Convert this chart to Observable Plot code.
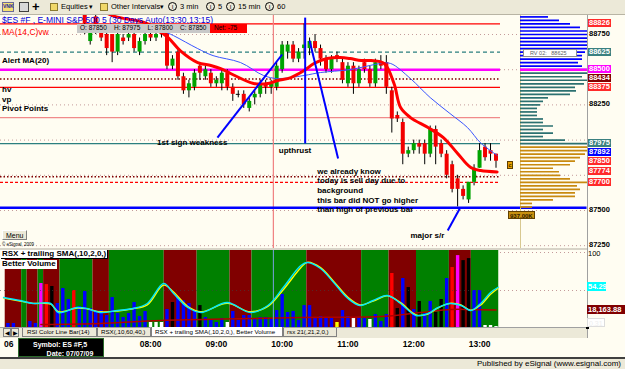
<!DOCTYPE html>
<html>
<head>
<meta charset="utf-8">
<script src="https://cdn.jsdelivr.net/npm/d3@7"></script>
<script src="https://cdn.jsdelivr.net/npm/@observablehq/plot@0.6"></script>
<style>
html,body{margin:0;padding:0;background:#fff;}
#root{position:relative;width:625px;height:369px;overflow:hidden;background:#fffdf2;font-family:"Liberation Sans",Arial,sans-serif;color:#000;}
#root div{position:absolute;box-sizing:border-box;white-space:pre;line-height:1;}
#root svg{position:absolute;left:0;}
</style>
</head>
<body>
<div id="root"></div>
<script>
// ================= DATA =================
const barTime = ["05:50","05:55","06:00","06:05","06:10","06:15","06:20","06:25","06:30","06:35","06:40","06:45","06:50","06:55",
"07:00","07:05","07:10","07:15","07:20","07:25","07:30","07:35","07:40","07:45","07:50","07:55",
"08:00","08:05","08:10","08:15","08:20","08:25","08:30","08:35","08:40","08:45","08:50","08:55",
"09:00","09:05","09:10","09:15","09:20","09:25","09:30","09:35","09:40","09:45","09:50","09:55",
"10:00","10:05","10:10","10:15","10:20","10:25","10:30","10:35","10:40","10:45","10:50","10:55",
"11:00","11:05","11:10","11:15","11:20","11:25","11:30","11:35","11:40","11:45","11:50","11:55",
"12:00","12:05","12:10","12:15","12:20","12:25","12:30","12:35","12:40","12:45","12:50","12:55",
"13:00","13:05","13:10","13:15"];

// candles visible from 07:00 (earlier bars are above the visible price range)
const candleFirst = "07:00";
const candleOpen = [88925,88700,88875,88775,88750,88750,88625,88725,88725,88750,
88625,88700,88750,88725,88775,88775,88525,88625,88450,88350,
88375,88525,88450,88475,88400,88400,88475,88375,88325,88325,
88225,88300,88325,88400,88375,88375,88500,88625,88675,88575,
88650,88650,88700,88650,88575,88500,88600,88550,88400,88525,
88400,88550,88500,88400,88550,88550,88350,88175,88125,87900,
87925,87975,87975,87900,88075,87975,87900,87825,87725,87650,
87575,87700,87800,87950,87925,87900];
const candleHigh = [88950,88800,88900,88800,88775,88750,88775,88750,88775,88775,
88725,88775,88800,88775,88800,88800,88600,88650,88475,88425,
88500,88550,88525,88500,88450,88500,88500,88400,88350,88350,
88300,88350,88425,88425,88425,88550,88700,88700,88700,88650,
88825,88725,88750,88675,88600,88600,88625,88575,88550,88550,
88525,88575,88525,88575,88600,88600,88375,88200,88150,87950,
88000,88000,88000,88100,88100,88000,87925,87850,87750,87675,
87700,87825,87975,87975,87975,87900];
const candleLow = [88750,88675,88750,88700,88600,88550,88600,88675,88700,88625,
88600,88675,88700,88700,88725,88500,88500,88425,88325,88300,
88350,88425,88425,88375,88375,88350,88350,88275,88300,88225,
88200,88250,88300,88325,88325,88350,88475,88575,88550,88550,
88575,88600,88625,88525,88475,88475,88550,88400,88375,88325,
88375,88475,88375,88375,88500,88325,88050,88125,87825,87875,
87900,87900,87825,87875,87825,87875,87725,87625,87525,87575,
87550,87675,87800,87850,87850,87800];
const candleClose = [88825,88775,88775,88725,88650,88625,88750,88700,88750,88650,
88700,88750,88725,88750,88750,88525,88575,88450,88350,88400,
88475,88475,88500,88400,88425,88475,88375,88325,88325,88250,
88275,88325,88400,88375,88400,88525,88675,88675,88575,88625,
88675,88700,88650,88575,88500,88575,88575,88425,88525,88400,
88500,88500,88400,88550,88525,88375,88150,88150,87900,87925,
87975,87950,87900,88075,87950,87900,87750,87650,87650,87600,
87700,87800,87925,87875,87900,87850];

// MA(14,C)vw (red) and MA(20) (blue)
const redMaTime = ["07:19","07:28","07:57","08:16","08:27","08:43","08:55","09:04","09:13","09:34","09:47","09:56","10:08","10:20","10:29","10:41","10:53","11:02","11:12","11:21","11:33","11:42","11:48","11:57","12:13","12:27","12:40","12:52","13:01","13:16"];
const redMaValue = [88906,88877,88828,88728,88636,88551,88530,88508,88473,88402,88402,88423,88444,88494,88544,88579,88586,88579,88565,88565,88544,88402,88231,88160,88089,88018,87905,87805,87784,87774];
const blueMaTime = ["08:04","08:11","08:21","08:43","08:57","09:22","09:43","09:56","10:20","10:35","11:02","11:30","11:39","11:57","12:15","12:33","12:49","13:01","13:16"];
const blueMaValue = [88821,88778,88742,88650,88600,88551,88459,88437,88459,88480,88501,88544,88544,88437,88302,88189,88089,87980,87892];

// horizontal levels
const gridLevels = [88750,88500,88250,88000,87750,87500,87250];
const redLevels = [88826,88375];
const magentaLevels = [88500];
const tealDashLevels = [88625];
const tealLevels = [87975];
const maroonDotLevels = [88434,87740];
const redDashLevels = [87700];
const salmonLevels = [88160];
const srLevels = [87520];
const cursorTime = "09:52";

// annotation arrows
const arrowFromTime = ["09:01","10:21","10:25","12:42"];
const arrowFromPrice = [88018,88870,88707,87514];
const arrowToTime = ["10:00","10:21","10:51","12:31"];
const arrowToPrice = [88608,87976,87869,87358];
const noteText = ["1st sign weakness","upthrust","major s/r"];
const noteTime = ["08:06","09:57","11:57"];
const notePrice = [87983,87926,87322];
const longNote = "we already know\ntoday is sell day due to\nbackground\nthis bar did NOT go higher\nthan high of previous bar";
const longNoteTime = "10:32";
const longNotePrice = 87809;

// right price-axis labels
const priceLabel = [88826,88750,88625,88500,88434,88375,88250,87975,87892,87850,87774,87700,87500,87250];
const priceLabelKind = ["pivot","grid","alert","pivot2","hv","pivot","grid","alert","ma20","last","ma14","pivot","grid","grid"];

// volume by price
const profilePrice = [88875,88850,88825,88800,88775,88750,88725,88700,88675,88650,88625,88600,88575,88550,88525,88500,
88475,88450,88425,88400,88375,88350,88325,88300,88275,88250,88225,88200,88175,88150,88125,88100,88075,88050,88025,88000,87975,
87950,87925,87900,87875,87850,87825,87800,87775,87750,87725,87700,87675,87650,87625,87600,87575,87550,87525];
const profileVolume = [28,39,50,60,67,67,67,67,67,67,65,62,62,58,62,67,
67,62,67,64,55,56,50,28,23,20,17,17,17,23,23,33,23,33,23,45,67,
67,67,65,60,55,50,33,39,40,50,67,57,60,55,55,33,12,12];
const valueAreaHigh = 88475, valueAreaLow = 87975;

// Better Volume (per bar, from 05:50)
const volume = [4200,4200,0,0,6200,4200,45700,44600,42600,24900,
40500,29100,38400,21800,37400,19700,17600,17600,12500,31100,
14500,10400,14500,26000,11400,16600,5200,5200,5200,18700,
26000,31100,28000,24900,16600,22800,10400,8300,5200,9300,
5200,16600,7300,12500,12500,8300,10400,10400,8300,17600,
34300,15600,16600,7300,22800,22800,9300,11400,10400,9300,
5200,17600,11400,9300,10400,9300,8300,13500,6200,13500,
56100,19700,50900,41500,18700,27000,14500,27000,15600,29100,
50900,62300,74700,69500,71600,38400,38400,2100,2100,1000];
const volumeType = ["N","N","N","N","N","N","CC","CU","CH","N",
"N","N","CU","N","N","N","N","N","N","N",
"N","N","N","N","N","N","CD","CD","CD","N",
"CH","N","N","N","N","CH","N","N","N","N",
"CD","N","N","N","N","N","N","N","N","N",
"N","N","N","N","N","N","N","N","N","N",
"LV","N","N","CD","N","N","CD","N","N","N",
"CU","CH","N","CH","N","CH","N","N","CH","CH",
"N","CU","CC","CH","CH","N","N","CD","CD","CD"];
const volMaTime = ["06:20","07:14","08:09","09:31","10:17","11:30","12:06","12:34","12:52","13:15"];
const volMaValue = [3100,4150,7300,9300,10400,11400,15600,18700,18700,18164];

// RSX background state bands
const bandStart = ["05:50","06:05","06:10","06:20","06:25","06:40","07:10","07:25","08:15","08:45","09:15","09:35","10:25","11:15","11:40","12:05","12:35","12:55"];
const bandEnd   = ["06:00","06:05","06:15","06:20","06:35","07:05","07:20","08:10","08:40","09:10","09:30","10:20","11:10","11:35","12:00","12:30","12:50","13:15"];
const bandState = ["dn","up","dn","up","dn","up","dn","up","dn","up","dn","up","dn","up","dn","up","dn","up"];

// RSX and its trailing SMA
const rsxTime = ["05:46","06:01","06:13","06:29","06:36","06:53","07:02","07:14","07:30","07:44","07:57","08:12","08:21","08:34","08:46","09:10","09:31","09:47","10:01","10:17","10:23","10:35","10:47","11:00","11:11","11:23","11:36","11:48","12:02","12:13","12:22","12:33","12:43","12:52","13:01","13:10","13:17"];
const rsxValue = [40.8,36.8,32.9,32.9,21,27.6,26.3,21,23.7,26.3,32.9,59.2,46,27.6,21,34.2,21,30.3,53.9,82.9,86.8,78.9,60.5,39.5,30.3,36.8,43.4,32.9,17.1,19.7,27.6,32.9,30.3,23.7,32.9,47.4,54.3];
const rsxSma = [40,36,33,32,22,27,26,22,23,26,31,57,48,29,22,33,22,29,51,80,87,80,62,41,31,36,43,34,18,19,27,33,31,24,31,45,53];

const timeTicks = ["08:00","09:00","10:00","11:00","12:00","13:00"];

// ================= LAYOUT CONSTANTS =================
const T = s => { const [h, m] = s.split(":").map(Number); return h * 60 + m; };
const xDomain = [343.2, 799.1];          // visible time window (min), mapped to px 0..500
const rightEdge = T("14:38");            // right edge of the drawing area
const priceDomain = [87230, 88885];
const font = "Liberation Sans, Arial, sans-serif";
const root = document.getElementById("root");
function div(css, text = "") { const d = document.createElement("div"); d.style.cssText = css; d.textContent = text; root.appendChild(d); return d; }

// ================= PRICE PANEL =================
const i0 = barTime.indexOf(candleFirst);
const candles = candleOpen.map((o, i) => ({t: T(barTime[i0 + i]), o, h: candleHigh[i], l: candleLow[i], c: candleClose[i]}));
const redMa = redMaTime.map((t, i) => ({t: T(t), v: redMaValue[i]}));
const blueMa = blueMaTime.map((t, i) => ({t: T(t), v: blueMaValue[i]}));
const arrows = arrowFromTime.map((t, i) => ({x1: T(t), y1: arrowFromPrice[i], x2: T(arrowToTime[i]), y2: arrowToPrice[i]}));
const notes = noteText.map((s, i) => ({s, t: T(noteTime[i]), p: notePrice[i]}));

const pricePlot = Plot.plot({
  width: 625, height: 233, marginTop: 0, marginRight: 125, marginBottom: 0, marginLeft: 0,
  x: {type: "linear", domain: xDomain, axis: null},
  y: {type: "linear", domain: priceDomain, axis: null},
  style: {background: "transparent", fontFamily: font},
  marks: [
    Plot.ruleY(gridLevels, {x1: xDomain[0], x2: rightEdge, stroke: "#c49a9a", strokeDasharray: "1,3"}),
    Plot.ruleY(salmonLevels, {stroke: "#f08a8a", strokeWidth: 1.2}),
    Plot.ruleY(redLevels, {stroke: "#ff0000", strokeWidth: 1.3}),
    Plot.ruleY(tealDashLevels, {stroke: "#2b7f7f", strokeWidth: 1.3, strokeDasharray: "4,3"}),
    Plot.ruleY(tealLevels, {stroke: "#2b7f7f", strokeWidth: 1.4}),
    Plot.ruleY(maroonDotLevels, {stroke: "#800000", strokeWidth: 1.4, strokeDasharray: "1.5,2"}),
    Plot.ruleY(redDashLevels, {stroke: "#ff0000", strokeWidth: 1.3, strokeDasharray: "3,2"}),
    Plot.ruleY(magentaLevels, {stroke: "#ff00ff", strokeWidth: 2.5}),
    Plot.ruleX([T(cursorTime)], {stroke: "#f08080", strokeWidth: 1.2}),
    Plot.ruleX(candles, {x: "t", y1: "l", y2: "h", stroke: "#000", strokeWidth: 1, clip: true}),
    Plot.ruleX(candles, {x: "t", y1: "o", y2: "c", stroke: d => d.c >= d.o ? "#00a400" : "#f20000", strokeWidth: 4, clip: true}),
    Plot.ruleY(candles.filter(d => d.c === d.o), {y: "c", x1: d => d.t - 1.8, x2: d => d.t + 1.8, stroke: "#000", clip: true}),
    Plot.line(blueMa, {x: "t", y: "v", stroke: "#3a55ff", strokeWidth: 1, curve: "catmull-rom", clip: true}),
    Plot.line(redMa, {x: "t", y: "v", stroke: "#ff0000", strokeWidth: 3, curve: "catmull-rom", clip: true}),
    Plot.ruleY(srLevels, {x1: xDomain[0], x2: rightEdge, stroke: "#0000ff", strokeWidth: 2.5}),
    Plot.link(arrows, {x1: "x1", y1: "y1", x2: "x2", y2: "y2", stroke: "#0000ff", strokeWidth: 2}),
    Plot.text(notes, {x: "t", y: "p", text: "s", textAnchor: "start", lineAnchor: "middle", fontSize: 8, fontWeight: "bold", fill: "#000"}),
    Plot.text([longNote], {x: T(longNoteTime), y: longNotePrice, text: d => d, textAnchor: "start", lineAnchor: "top", lineHeight: 1.2, fontSize: 8, fontWeight: "bold", fill: "#000"})
  ]
});

// volume-by-price profile
const profile = profilePrice.map((p, i) => ({p, v: profileVolume[i],
  zone: p > valueAreaHigh ? "#0000ff" : (p >= valueAreaLow ? "#2b7070" : "#c88a10")}));
const profilePlot = Plot.plot({
  width: 625, height: 233, marginTop: 0, marginRight: 38, marginBottom: 0, marginLeft: 520,
  x: {type: "linear", domain: [0, d3.max(profileVolume)], axis: null},
  y: {type: "linear", domain: priceDomain, axis: null},
  style: {background: "transparent"},
  marks: [
    Plot.ruleX([0], {stroke: "#d8c890"}),
    Plot.ruleY(profile, {y: "p", x1: 0, x2: "v", stroke: "zone", strokeWidth: 1.7}),
    Plot.ruleY(magentaLevels, {stroke: "#ff00ff", strokeWidth: 2.5})
  ]
});

// ================= INDICATOR PANEL =================
const volColor = {N: "#0000ff", LV: "#ffff00", CU: "#ff0000", CD: "#ffffff", CH: "#000000", CC: "#ff00ff"};
const vols = volume.map((v, i) => ({t: T(barTime[i]), v, c: volColor[volumeType[i]]}));
const bands = bandStart.map((s, i) => ({a: T(s) - 2.5, b: T(bandEnd[i]) + 2.5, f: bandState[i] === "dn" ? "#800000" : "#008000"}));
const volMa = volMaTime.map((t, i) => ({t: T(t), v: volMaValue[i]}));
const tickMins = timeTicks.map(T);

const volPlot = Plot.plot({
  width: 625, height: 102, marginTop: 0, marginRight: 125, marginBottom: 25, marginLeft: 0,
  x: {type: "linear", domain: xDomain, axis: null},
  y: {type: "linear", domain: [0, 80000], axis: null},
  style: {background: "transparent", fontFamily: font},
  marks: [
    Plot.rect(bands, {x1: "a", x2: "b", y1: 0, y2: 80000, fill: "f"}),
    Plot.ruleX(vols, {x: "t", y1: 0, y2: "v", stroke: "c", strokeWidth: 3.4}),
    Plot.line(volMa, {x: "t", y: "v", stroke: "#b00000", strokeWidth: 1.5, curve: "catmull-rom"}),
    Plot.ruleX([T(cursorTime)], {stroke: "#7aa0e0", strokeWidth: 1}),
    Plot.axisX({ticks: tickMins, tickFormat: m => timeTicks[tickMins.indexOf(m)], tickSize: 0, tickPadding: 13, fontSize: 8.5, fontWeight: "bold", fill: "#000"})
  ]
});

const rsx = rsxTime.map((t, i) => ({t: T(t), v: rsxValue[i], s: rsxSma[i]}));
const rsxPlot = Plot.plot({
  width: 625, height: 102, marginTop: 0, marginRight: 125, marginBottom: 25, marginLeft: 0,
  x: {type: "linear", domain: xDomain, axis: null},
  y: {type: "linear", domain: [0, 100], range: [78, 2], axis: null},
  style: {background: "transparent"},
  marks: [
    Plot.ruleY([100, 50], {x1: xDomain[1], x2: rightEdge, stroke: "#c49a9a", strokeDasharray: "1,3"}),
    Plot.ruleY([50], {stroke: "#404040", strokeDasharray: "1,3", strokeOpacity: 0.6}),
    Plot.line(rsx, {x: "t", y: "s", stroke: "#ffff00", strokeWidth: 1.4, curve: "catmull-rom"}),
    Plot.line(rsx, {x: "t", y: "v", stroke: "#00e8ff", strokeWidth: 1.4, curve: "catmull-rom"})
  ]
});

// ================= ASSEMBLY =================
// toolbar
div("left:0;top:0;width:625px;height:15px;background:#ece9d8;border-bottom:1px solid #b8b4a4;");
div("left:2px;top:2px;width:12px;height:10px;background:#f4e070;border:1px solid #6a6a9a;font-size:5px;color:#2020a0;font-weight:bold;padding-top:1px;", "VNK");
div("left:19px;top:2px;width:10px;height:10px;background:#d8d8d8;border:1px solid #404040;");
div("left:32px;top:0px;font-size:13px;font-weight:bold;", "+");
div("left:50px;top:3px;width:8px;height:8px;background:#f0d868;border:1px solid #8a7a30;");
div("left:61px;top:3px;font-size:7.5px;", "Equities");
div("left:89px;top:3px;font-size:7px;", "\u25BE");
div("left:100px;top:3px;width:8px;height:8px;background:#f0d868;border:1px solid #8a7a30;");
div("left:111px;top:3px;font-size:7.5px;", "Other Intervals");
div("left:160px;top:3px;font-size:7px;", "\u25BE");
[[168, "3 min"], [206, "5"], [226, "15 min"], [265, "60"]].forEach(([x, s]) => {
  div(`left:${x}px;top:2px;width:9px;height:9px;border:1px solid #000;border-radius:50%;font-size:6px;text-align:center;padding-top:1px;`, "I");
  div(`left:${x + 12}px;top:3px;font-size:7.5px;`, s);
});

// panel separators
div("left:0;top:248px;width:587px;height:2px;background:#d8d4c8;");

// plots
pricePlot.style.top = "15px"; root.appendChild(pricePlot);
profilePlot.style.top = "15px"; root.appendChild(profilePlot);
volPlot.style.top = "250px"; root.appendChild(volPlot);
rsxPlot.style.top = "250px"; root.appendChild(rsxPlot);

div("left:587px;top:15px;width:1px;height:323px;background:#a0a0a0;");

// price panel labels
div("left:2px;top:16px;font-size:8.5px;color:#0000d8;", "$ES #F , E-MINI S&P 500 5 (30 Days Auto(13:30,13:15)");
div("left:77px;top:24px;width:133px;height:9px;background:#c8c8c8;font-size:6.5px;padding:1px 0 0 3px;color:#000;", "O: 87850    H: 87975    L: 87800    C: 87850");
div("left:210px;top:24px;width:37px;height:9px;background:#ff0000;font-size:6.5px;padding:1px 0 0 4px;color:#000;", "Net: -75");
div("left:2px;top:28px;font-size:8.5px;color:#ff0000;", "MA(14,C)vw");
div("left:2px;top:57px;font-size:8px;font-weight:bold;", "Alert MA(20)");
div("left:2px;top:86px;font-size:8px;font-weight:bold;", "hv");
div("left:2px;top:96px;font-size:8px;font-weight:bold;", "vp");
div("left:2px;top:105px;font-size:8px;font-weight:bold;", "Pivot Points");
div("left:2px;top:230px;width:25px;height:10px;background:#ece9d8;border:1px solid #808080;border-top-color:#fff;border-left-color:#fff;font-size:7px;padding:1px 0 0 3px;", "Menu");
div("left:2px;top:243px;font-size:4.5px;", "\u00A9 eSignal, 2009");
div("left:523px;top:49px;width:54px;height:8px;background:#fff;border:1px solid #909090;font-size:5.5px;color:#606060;padding:1px 0 0 6px;", "RV 02:   88625");
div("left:507px;top:161px;width:6px;height:8px;background:#e8a000;border:1px solid #604000;font-size:6px;padding-left:0.5px;", "c");
div("left:508px;top:211px;width:27px;height:8px;background:#c89010;border:1px solid #604000;font-size:6px;font-weight:bold;padding:1px 0 0 1px;color:#302000;", "937.00K");

// price axis labels through the price scale (nudged apart where they collide)
const py = pricePlot.scale("y");
const kindStyle = {grid: ["transparent", "#000"], pivot: ["#ff2a2a", "#fff"], pivot2: ["#ff00ff", "#fff"], alert: ["#3a8080", "#fff"], hv: ["#800000", "#fff"], ma20: ["#0000ff", "#fff"], last: ["#ff2a2a", "#fff"], ma14: ["#ff2a2a", "#fff"]};
const labelPos = priceLabel.map((p, i) => ({p, k: priceLabelKind[i], y: 15 + py.apply(p)})).sort((a, b) => a.y - b.y);
const minGap = 8.8;
for (let i = labelPos.length - 2; i >= 0; i--) {
  if (labelPos[i + 1].y - labelPos[i].y < minGap) labelPos[i].y = labelPos[i + 1].y - minGap;
}
labelPos.forEach(({p, k, y}) => {
  const [bg, fg] = kindStyle[k];
  div(`left:588px;top:${(y - 4).toFixed(1)}px;width:23px;height:8px;background:${bg};color:${fg};font-size:7.5px;font-weight:bold;line-height:6px;padding:1px 0 0 1px;`, String(p));
});

// indicator labels
div("left:1px;top:250px;height:9px;background:#fff;font-size:8px;font-weight:bold;padding:0 1px;border-right:1px solid #000;border-bottom:1px solid #000;", "RSX + trailing SMA(,10,2,0,)");
div("left:1px;top:260px;height:9px;background:#fff;font-size:8px;font-weight:bold;padding:0 1px;", "Better Volume");
const ry = rsxPlot.scale("y"), vy = volPlot.scale("y");
div(`left:588px;top:${(250 + ry.apply(100) - 1).toFixed(1)}px;font-size:7.5px;line-height:6px;`, "100");
div(`left:587px;top:${(250 + ry.apply(rsxValue[rsxValue.length - 1]) - 4.5).toFixed(1)}px;width:19px;height:9px;background:#00ffff;color:#fff;font-size:7.5px;font-weight:bold;padding:1px 0 0 1px;`, "54.29");
div(`left:587px;top:${(250 + vy.apply(volMaValue[volMaValue.length - 1]) - 4.5).toFixed(1)}px;width:38px;height:9px;background:#800000;color:#fff;font-size:7.5px;font-weight:bold;padding:1px 0 0 1px;`, "18,163.88");
div(`left:587px;top:318px;width:18px;height:9px;background:#fff;border:1px solid #ddd;color:#eee;font-size:7px;padding:1px 0 0 1px;`, "0.31");

// tab bar
div("left:0;top:327px;width:587px;height:11px;background:#ece9d8;border-top:1px solid #a0a0a0;");
div("left:3px;top:328px;width:8px;height:9px;background:#ece9d8;border:1px solid #808080;font-size:6px;padding:1px 0 0 1px;", "\u25C0");
div("left:11px;top:328px;width:8px;height:9px;background:#ece9d8;border:1px solid #808080;font-size:6px;padding:1px 0 0 1px;", "\u25B6");
div("left:22px;top:328px;width:75px;height:9px;background:#ece9d8;border:1px solid #808080;border-top:none;font-size:6.2px;padding:1px 0 0 4px;", "RSI Color Line Bar(14)");
div("left:97px;top:328px;width:54px;height:9px;background:#ece9d8;border:1px solid #808080;border-top:none;font-size:6.2px;padding:1px 0 0 3px;", "RSX(,10,60,40,)");
div("left:151px;top:327px;width:132px;height:10px;background:#fff;border:1px solid #808080;border-top:none;font-size:6.2px;padding:2px 0 0 3px;", "RSX + trailing SMA(,10,2,0,), Better Volume");
div("left:283px;top:328px;width:54px;height:9px;background:#ece9d8;border:1px solid #808080;border-top:none;font-size:6.2px;padding:1px 0 0 3px;", "rsx 21(,21,2,0,)");
div("left:586px;top:327px;width:3px;height:2px;background:#000;");

// time axis start label and symbol box
div("left:4px;top:340px;font-size:8.5px;font-weight:bold;", "06");
div("left:18px;top:338px;width:86px;height:19px;background:#000;border:1px solid #2a6a2a;color:#fff;font-size:7px;font-weight:bold;padding:2px 0 0 14px;line-height:8.5px;white-space:pre;", "Symbol: ES #F,5\n       Date: 07/07/09");

// status bar
div("left:0;top:357px;width:625px;height:12px;background:#ece9d8;border-top:2px solid #404040;");
div("left:0;top:360px;width:621px;font-size:8px;text-align:right;", "Published by eSignal (www.esignal.com)");
</script>
</body>
</html>
